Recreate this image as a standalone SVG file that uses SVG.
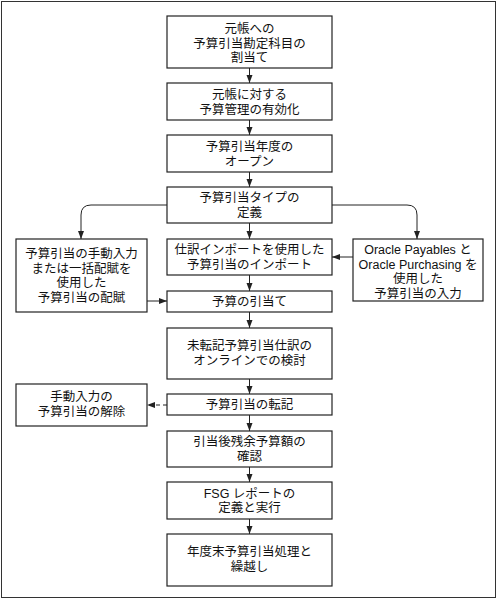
<svg xmlns="http://www.w3.org/2000/svg" width="497" height="600" viewBox="0 0 497 600">
<defs>
<marker id="arr" viewBox="0 0 8 8" refX="8" refY="4" markerWidth="8" markerHeight="8" markerUnits="userSpaceOnUse" orient="auto">
<path d="M0,1 L8,4 L0,7 Z" fill="#222"/>
</marker>
</defs>
<style>
.box{fill:#fff;stroke:#222;stroke-width:1.2}
.t{font-family:"Liberation Sans","Noto Sans CJK JP",sans-serif;font-size:12.5px;fill:#111;text-anchor:middle}
.c{fill:none;stroke:#222;stroke-width:1;marker-end:url(#arr)}
.d{stroke-dasharray:4,3}
</style>
<rect x="0" y="0" width="497" height="600" fill="#fff"/>
<rect x="1.5" y="1.5" width="494" height="596" fill="none" stroke="#333" stroke-width="1"/>
<g id="connectors">
<path class="c" d="M249.5,68 V83"/>
<path class="c" d="M249.5,120 V135"/>
<path class="c" d="M249.5,172 V187"/>
<path class="c" d="M249.5,223 V239"/>
<path class="c" d="M249.5,275 V291"/>
<path class="c" d="M249.5,312 V328"/>
<path class="c" d="M249.5,379 V394"/>
<path class="c" d="M249.5,415 V431"/>
<path class="c" d="M249.5,467 V482"/>
<path class="c" d="M249.5,519 V534"/>
<path class="c" d="M167,205 H91 Q81,205 81,215 V239"/>
<path class="c" d="M332,205 H407 Q417,205 417,215 V239"/>
<path class="c" d="M353,257 H332"/>
<path class="c" d="M147,301 H167"/>
<path class="c d" d="M167,405 H147"/>
</g>
<g id="n1"><rect class="box" x="167" y="16" width="165" height="52"/>
<text class="t" x="249.5" y="33">元帳への</text><text class="t" x="249.5" y="47.5">予算引当勘定科目の</text><text class="t" x="249.5" y="62">割当て</text></g>
<g id="n2"><rect class="box" x="167" y="83" width="165" height="37"/>
<text class="t" x="249.5" y="99">元帳に対する</text><text class="t" x="249.5" y="113.5">予算管理の有効化</text></g>
<g id="n3"><rect class="box" x="167" y="135" width="165" height="37"/>
<text class="t" x="249.5" y="151">予算引当年度の</text><text class="t" x="249.5" y="165.5">オープン</text></g>
<g id="n4"><rect class="box" x="167" y="187" width="165" height="36"/>
<text class="t" x="249.5" y="202">予算引当タイプの</text><text class="t" x="249.5" y="216.5">定義</text></g>
<g id="n5"><rect class="box" x="167" y="239" width="165" height="36"/>
<text class="t" x="249.5" y="254">仕訳インポートを使用した</text><text class="t" x="249.5" y="268.5">予算引当のインポート</text></g>
<g id="nL1"><rect class="box" x="16" y="239" width="131" height="73"/>
<text class="t" x="81.5" y="258">予算引当の手動入力</text><text class="t" x="81.5" y="272.5">または一括配賦を</text><text class="t" x="81.5" y="287">使用した</text><text class="t" x="81.5" y="301.5">予算引当の配賦</text></g>
<g id="nR1"><rect class="box" x="353" y="239" width="130" height="62"/>
<text class="t" x="418" y="254">Oracle Payables と</text><text class="t" x="418" y="268.5">Oracle Purchasing を</text><text class="t" x="418" y="283">使用した</text><text class="t" x="418" y="297.5">予算引当の入力</text></g>
<g id="n6"><rect class="box" x="167" y="291" width="165" height="21"/>
<text class="t" x="249.5" y="306">予算の引当て</text></g>
<g id="n7"><rect class="box" x="167" y="328" width="165" height="51"/>
<text class="t" x="249.5" y="350">未転記予算引当仕訳の</text><text class="t" x="249.5" y="364.5">オンラインでの検討</text></g>
<g id="n8"><rect class="box" x="167" y="394" width="165" height="21"/>
<text class="t" x="249.5" y="409">予算引当の転記</text></g>
<g id="nL2"><rect class="box" x="16" y="384" width="131" height="42"/>
<text class="t" x="81.5" y="401">手動入力の</text><text class="t" x="81.5" y="415.5">予算引当の解除</text></g>
<g id="n9"><rect class="box" x="167" y="431" width="165" height="36"/>
<text class="t" x="249.5" y="446">引当後残余予算額の</text><text class="t" x="249.5" y="460.5">確認</text></g>
<g id="n10"><rect class="box" x="167" y="482" width="165" height="37"/>
<text class="t" x="249.5" y="497.5">FSG レポートの</text><text class="t" x="249.5" y="512">定義と実行</text></g>
<g id="n11"><rect class="box" x="167" y="534" width="165" height="52"/>
<text class="t" x="249.5" y="556">年度末予算引当処理と</text><text class="t" x="249.5" y="570.5">繰越し</text></g>
</svg>
